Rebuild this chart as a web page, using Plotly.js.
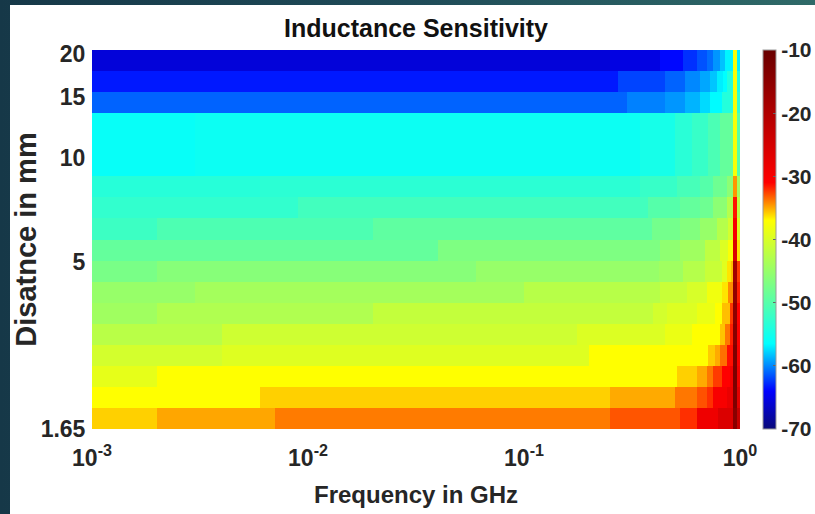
<!DOCTYPE html>
<html>
<head>
<meta charset="utf-8">
<script src="https://cdn.plot.ly/plotly-3.0.1.min.js"></script>
<style>
  html, body { margin: 0; padding: 0; width: 815px; height: 514px; overflow: hidden;
    background: linear-gradient(90deg, #163848 0%, #1f4b58 50%, #2f6a68 100%); }
  #chart { position: absolute; left: 10px; top: 5px; width: 805px; height: 509px; background: #fff; }
</style>
</head>
<body>
<div id="chart"></div>
<script>
// ---- data ----
// Row boundaries (distance in mm), bottom to top
const distanceEdges = [1.65, 1.898, 2.184, 2.512, 2.890, 3.325, 3.825, 4.400, 5.062, 5.823,
                       6.699, 7.707, 8.866, 10.20, 11.73, 13.50, 15.53, 17.86, 20.55];
// Each row: [frequency (GHz) where a segment starts, sensitivity value]
const row01 = [[0.001,-35.9],[0.002,-34.9],[0.007,-33.9],[0.25,-33.0],[0.527,-32.1],[0.632,-28.8],[0.79,-26.0],[0.928,-14.5],[0.965,-23]];
const row02 = [[0.001,-37.0],[0.006,-35.9],[0.25,-35.0],[0.5,-33.8],[0.632,-32.9],[0.703,-32.1],[0.75,-30.0],[0.87,-28],[0.928,-13],[0.965,-27]];
const row03 = [[0.001,-38.9],[0.002,-37.0],[0.51,-35.9],[0.632,-35.0],[0.703,-33.8],[0.75,-32.4],[0.826,-31.0],[0.9,-29],[0.928,-12.5],[0.965,-29]];
const row04 = [[0.001,-40.4],[0.004,-39.5],[0.2,-37.0],[0.71,-35.8],[0.766,-35.0],[0.807,-33.6],[0.872,-31.3],[0.928,-13],[0.965,-30]];
const row05 = [[0.001,-42.4],[0.004,-40.8],[0.176,-39.7],[0.45,-38.5],[0.6,-37.0],[0.807,-35.6],[0.853,-33.8],[0.9,-31.7],[0.928,-14],[0.965,-30.5]];
const row06 = [[0.001,-44.3],[0.002,-43.1],[0.02,-41.6],[0.394,-40.4],[0.46,-39.6],[0.632,-38.5],[0.766,-37.0],[0.826,-35.5],[0.9,-32.3],[0.928,-15],[0.965,-31]];
const row07 = [[0.001,-45.0],[0.003,-44.0],[0.1,-42.5],[0.426,-41.2],[0.568,-40.1],[0.703,-38.1],[0.826,-36.4],[0.88,-34.3],[0.928,-16],[0.965,-31.7]];
const row08 = [[0.001,-47.3],[0.002,-46.2],[0.06,-45.0],[0.42,-44.3],[0.545,-42.7],[0.687,-41.2],[0.826,-39.3],[0.872,-36.4],[0.91,-35.5],[0.928,-18],[0.965,-32.4]];
const row09 = [[0.001,-48.9],[0.04,-46.9],[0.426,-45.6],[0.527,-44.3],[0.69,-42.0],[0.807,-39.7],[0.88,-37.3],[0.928,-26],[0.965,-36.3]];
const row10 = [[0.001,-51.9],[0.002,-50.6],[0.02,-49.3],[0.39,-47.7],[0.527,-46.6],[0.653,-45.0],[0.782,-42.7],[0.88,-40.4],[0.928,-30],[0.965,-39.7]];
const row11 = [[0.001,-52.7],[0.009,-51.5],[0.375,-50.0],[0.527,-48.9],[0.653,-48.1],[0.75,-45.8],[0.872,-42.7],[0.928,-31.5],[0.965,-42.0]];
const row12 = [[0.001,-53.6],[0.006,-53.2],[0.344,-52.3],[0.51,-51.1],[0.653,-50.0],[0.75,-48.1],[0.872,-45.8],[0.928,-34.5],[0.965,-44.3]];
const row13 = [[0.001,-56.0],[0.003,-55.6],[0.344,-54.8],[0.5,-53.4],[0.6,-52.3],[0.71,-50.8],[0.807,-48.9],[0.928,-37.5],[0.965,-50.0]];
const row14 = [[0.001,-56.0],[0.003,-55.6],[0.344,-54.8],[0.5,-53.4],[0.6,-52.3],[0.71,-50.8],[0.807,-48.9],[0.928,-37.5],[0.965,-50.0]];
const row15 = [[0.001,-56.0],[0.003,-55.6],[0.344,-54.8],[0.5,-53.4],[0.6,-52.3],[0.71,-50.8],[0.807,-48.9],[0.928,-37.5],[0.965,-50.0]];
const row16 = [[0.001,-61.1],[0.3,-60.2],[0.45,-59.6],[0.556,-58.7],[0.653,-57.6],[0.726,-56.6],[0.826,-53.8],[0.928,-37.5],[0.965,-53.0]];
const row17 = [[0.001,-63.3],[0.272,-62.0],[0.45,-61.1],[0.556,-60.0],[0.653,-59.1],[0.726,-58.2],[0.782,-57.0],[0.835,-56.5],[0.872,-54.0],[0.928,-37.5],[0.965,-54.5]];
const row18 = [[0.001,-65.7],[0.25,-65.3],[0.426,-63.8],[0.545,-62.6],[0.632,-61.6],[0.703,-60.8],[0.75,-59.6],[0.807,-58.3],[0.853,-56.8],[0.928,-37.5],[0.965,-57.0]];
const freqMax = 1.0;

const xTickVals = [0.001, 0.01, 0.1, 1];
const xTickText = ['10<sup>-3</sup>', '10<sup>-2</sup>', '10<sup>-1</sup>', '10<sup>0</sup>'];
const yTickVals = [1.65, 5, 10, 15, 20];
const yTickText = ['1.65', '5', '10', '15', '20'];
const cbTickVals = [-70, -60, -50, -40, -30, -20, -10];
const cbTickText = ['-70', '-60', '-50', '-40', '-30', '-20', '-10'];

// ---- build matrix ----
const rows = [row01,row02,row03,row04,row05,row06,row07,row08,row09,row10,row11,row12,row13,row14,row15,row16,row17,row18];
const edgeSet = new Set([freqMax]);
rows.forEach(r => r.forEach(s => edgeSet.add(s[0])));
const freqEdges = Array.from(edgeSet).sort((a, b) => a - b);
const z = rows.map(r => {
  const out = [];
  for (let j = 0; j < freqEdges.length - 1; j++) {
    const f = freqEdges[j];
    let v = r[0][1];
    for (const s of r) { if (s[0] <= f + 1e-12) v = s[1]; }
    out.push(v);
  }
  return out;
});

const zMin = -70, zMax = -10;
const norm = v => (v - zMin) / (zMax - zMin);
const colorscale = [
  [norm(-70), 'rgb(10,10,120)'],
  [norm(-64), 'rgb(0,0,255)'],
  [norm(-56.5), 'rgb(0,255,255)'],
  [norm(-46.75), 'rgb(128,255,128)'],
  [norm(-37), 'rgb(255,255,0)'],
  [norm(-31), 'rgb(255,0,0)'],
  [norm(-10), 'rgb(105,0,0)']
];

const FONT = '"Liberation Sans", Arial, sans-serif';
const txt = '#262626';

const trace = {
  type: 'heatmap',
  x: freqEdges,
  y: distanceEdges,
  z: z,
  zmin: zMin, zmax: zMax,
  colorscale: colorscale,
  zsmooth: false,
  hoverinfo: 'skip',
  colorbar: {
    x: 1.0355, xanchor: 'left', xpad: 0,
    y: 0.5, yanchor: 'middle', len: 1, lenmode: 'fraction', ypad: 0,
    thickness: 13, thicknessmode: 'pixels',
    outlinewidth: 1, outlinecolor: '#9a9a9a',
    tickmode: 'array', tickvals: cbTickVals, ticktext: cbTickText,
    ticks: 'inside', ticklen: 3, tickcolor: '#666',
    tickfont: { family: FONT, size: 21, color: txt, weight: 'bold' }
  }
};

const layout = {
  width: 805, height: 509,
  margin: { l: 82, r: 75, t: 45, b: 85, autoexpand: false },
  paper_bgcolor: '#ffffff', plot_bgcolor: '#ffffff',
  title: {
    text: '<b>Inductance Sensitivity</b>',
    font: { family: FONT, size: 25, color: '#111' },
    x: 0.5, xref: 'paper', xanchor: 'center',
    y: 1 - 23 / 509, yref: 'container', yanchor: 'middle'
  },
  xaxis: {
    type: 'log', range: [Math.log10(0.001), Math.log10(1)],
    tickmode: 'array', tickvals: xTickVals, ticktext: xTickText,
    ticks: 'outside', ticklen: 8, tickcolor: 'rgba(0,0,0,0)',
    tickfont: { family: FONT, size: 23, color: txt, weight: 'bold' },
    showgrid: false, zeroline: false, showline: false,
    title: { text: '<b>Frequency in GHz</b>', font: { family: FONT, size: 24, color: txt }, standoff: 16 }
  },
  yaxis: {
    type: 'log', range: [Math.log10(1.65), Math.log10(20.55)],
    tickmode: 'array', tickvals: yTickVals, ticktext: yTickText,
    ticks: 'outside', ticklen: 1, tickcolor: 'rgba(0,0,0,0)',
    tickfont: { family: FONT, size: 23, color: txt, weight: 'bold' },
    showgrid: false, zeroline: false, showline: false,
    title: { text: '<b>Disatnce in mm</b>', font: { family: FONT, size: 29, color: txt }, standoff: 10 }
  }
};

Plotly.newPlot('chart', [trace], layout, { displayModeBar: false, staticPlot: true });
</script>
</body>
</html>
